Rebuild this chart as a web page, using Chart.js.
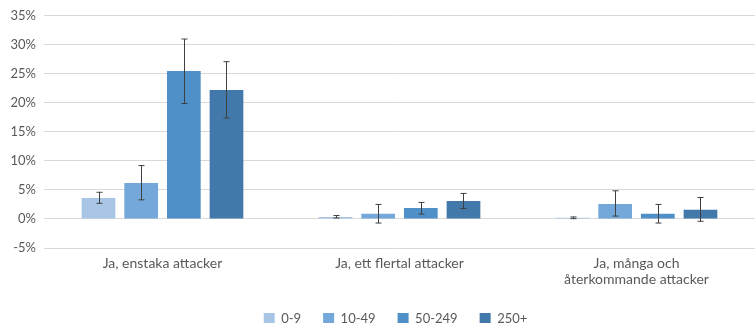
<!DOCTYPE html>
<html>
<head>
<meta charset="utf-8">
<script src="https://cdn.jsdelivr.net/npm/chart.js@4/dist/chart.umd.min.js"></script>
<style>
  html, body { margin: 0; padding: 0; background: #fff; overflow: hidden; }
  #wrap { width: 755px; height: 323px; position: relative; }
</style>
</head>
<body>
<div id="wrap"><canvas id="c"></canvas></div>
<script>
// Kategorier (svarsalternativ) och storleksklasser (antal anställda)
const categories = ['Ja, enstaka attacker', 'Ja, ett flertal attacker', ['Ja, många och', 'återkommande attacker']];
const sizeClasses = ['0-9', '10-49', '50-249', '250+'];

// Andel i procent per storleksklass
const share_0_9    = [3.6, 0.35, 0.2];
const share_10_49  = [6.2, 0.9, 2.6];
const share_50_249 = [25.5, 1.9, 0.9];
const share_250    = [22.2, 3.1, 1.6];

// Konfidensintervall (lägsta, högsta) per storleksklass
const low_0_9    = [2.7, 0.17, 0.05];
const high_0_9   = [4.6, 0.6, 0.35];
const low_10_49  = [3.3, -0.7, 0.5];
const high_10_49 = [9.2, 2.5, 4.85];
const low_50_249 = [19.9, 0.85, -0.7];
const high_50_249= [31.0, 2.85, 2.5];
const low_250    = [17.4, 1.8, -0.4];
const high_250   = [27.1, 4.4, 3.7];

const yTicks = [-5, 0, 5, 10, 15, 20, 25, 30, 35];

const colors = ['#a9c5e5', '#74a8da', '#4e90c7', '#4279aa'];
const values = [share_0_9, share_10_49, share_50_249, share_250];
const lows   = [low_0_9, low_10_49, low_50_249, low_250];
const highs  = [high_0_9, high_10_49, high_50_249, high_250];

// Felstaplar ritas efter staplarna med axlarnas egna skalor
const errorBars = {
  id: 'errorBars',
  afterDatasetsDraw(chart) {
    const ctx = chart.ctx;
    const y = chart.scales.y;
    ctx.save();
    ctx.strokeStyle = '#404040';
    ctx.lineWidth = 1;
    chart.data.datasets.forEach((ds, i) => {
      const meta = chart.getDatasetMeta(i);
      meta.data.forEach((bar, j) => {
        const x = Math.round(bar.x) + 0.5;
        const yl = y.getPixelForValue(ds.errLow[j]);
        const yh = y.getPixelForValue(ds.errHigh[j]);
        ctx.beginPath();
        ctx.moveTo(x, yl); ctx.lineTo(x, yh);
        ctx.moveTo(x - 3, yl); ctx.lineTo(x + 3, yl);
        ctx.moveTo(x - 3, yh); ctx.lineTo(x + 3, yh);
        ctx.stroke();
      });
    });
    ctx.restore();
  }
};

// Förklaringen flyttas något åt höger om mitten
const legendOffset = {
  id: 'legendOffset',
  afterLayout(chart) {
    if (chart.legend) {
      chart.legend.left += 16;
      chart.legend.right += 16;
    }
  }
};

new Chart(document.getElementById('c'), {
  type: 'bar',
  data: {
    labels: categories,
    datasets: sizeClasses.map((name, i) => ({
      label: name,
      data: values[i],
      errLow: lows[i],
      errHigh: highs[i],
      backgroundColor: colors[i],
      borderWidth: 0,
      categoryPercentage: 0.72,
      barPercentage: 0.79
    }))
  },
  options: {
    responsive: true,
    maintainAspectRatio: false,
    animation: false,
    layout: { padding: { top: 10, right: -4, left: 0, bottom: -12 } },
    plugins: {
      legend: {
        position: 'bottom',
        labels: {
          boxWidth: 11, boxHeight: 11, padding: 22,
          color: '#595959',
          font: { family: 'Lato', size: 13 }
        }
      },
      tooltip: { enabled: false }
    },
    scales: {
      x: {
        afterFit(scale) { scale.height = 42; },
        grid: { display: false, drawTicks: false },
        border: { display: false },
        ticks: {
          color: '#595959', padding: 8, maxRotation: 0,
          font: { family: 'Lato', size: 14, lineHeight: 1.12 }
        }
      },
      y: {
        min: -5, max: 35,
        afterBuildTicks(scale) { scale.ticks = yTicks.map(v => ({ value: v })); },
        afterFit(scale) { scale.width = 44; },
        grid: { color: '#d9d9d9', lineWidth: 1, drawTicks: false },
        border: { display: false },
        ticks: {
          color: '#595959', padding: 8,
          font: { family: 'Lato', size: 13 },
          callback: v => v + '%'
        }
      }
    }
  },
  plugins: [errorBars, legendOffset]
});
</script>
</body>
</html>
